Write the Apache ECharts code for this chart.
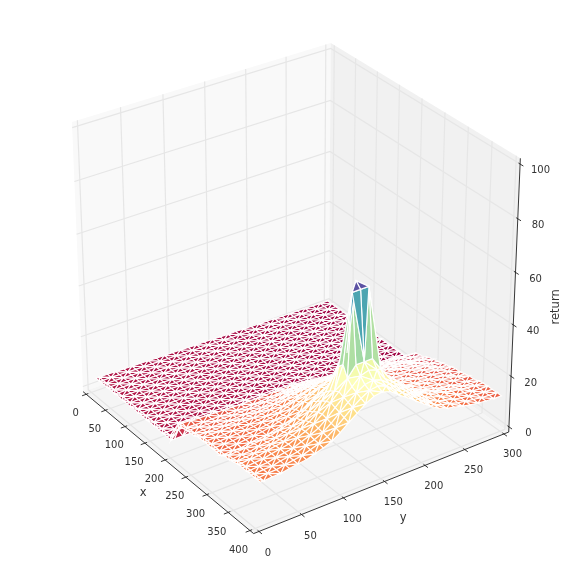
<!DOCTYPE html>
<html><head><meta charset="utf-8"><style>html,body{margin:0;padding:0;background:#fff}#c{width:572px;height:572px}</style>
<script src="https://cdn.jsdelivr.net/npm/echarts@6/dist/echarts.min.js"></script></head><body><div id="c"></div>
<script>
const xTicks=[0,50,100,150,200,250,300,350,400];
const yTicks=[0,50,100,150,200,250,300];
const zTicks=[0,20,40,60,80,100];
const xValues=[0,10,20,30,40,50,60,70,80,90,100,110,120,130,140,150,160,170,180,190,200,210,220,230,240,250,260,270,280,290,300,310,320,330,340,350,360,370,380,390,400];
const yValues=[6,10,20,30,40,50,60,70,80,90,100,110,120,130,140,150,160,170,180,190,200,210,220,230,240,250,260,270,280,290,300];
const zRows=[
[3,2.9,2.9,2.8,2.7,2.6,2.6,2.5,2.4,2.3,2.3,2.2,2.1,2,2,1.9,1.8,1.7,1.7,1.6,1.5,1.4,1.4,1.3,1.2,1.1,1.1,1,.9,.8,.8],
[3,2.9,2.9,2.8,2.7,2.6,2.6,2.5,2.4,2.3,2.3,2.2,2.1,2,2,1.9,1.8,1.7,1.7,1.6,1.5,1.4,1.4,1.3,1.2,1.1,1.1,1,.9,.8,.8],
[3,2.9,2.9,2.8,2.7,2.6,2.6,2.5,2.4,2.3,2.3,2.2,2.1,2,2,1.9,1.8,1.7,1.7,1.6,1.5,1.4,1.4,1.3,1.2,1.1,1.1,1,.9,.8,.8],
[3,2.9,2.9,2.8,2.7,2.6,2.6,2.5,2.4,2.3,2.3,2.2,2.1,2,2,1.9,1.8,1.7,1.7,1.6,1.5,1.4,1.4,1.3,1.2,1.1,1.1,1,.9,.8,.8],
[3,2.9,2.9,2.8,2.7,2.6,2.6,2.5,2.4,2.3,2.3,2.2,2.1,2,2,1.9,1.8,1.7,1.7,1.6,1.5,1.4,1.4,1.3,1.2,1.1,1.1,1,.9,.8,.8],
[3,2.9,2.9,2.8,2.7,2.6,2.6,2.5,2.4,2.3,2.3,2.2,2.1,2,2,1.9,1.8,1.7,1.7,1.6,1.5,1.4,1.4,1.3,1.2,1.1,1.1,1,.9,.8,.8],
[3,2.9,2.9,2.8,2.7,2.6,2.6,2.5,2.4,2.3,2.3,2.2,2.1,2,2,1.9,1.8,1.7,1.7,1.6,1.5,1.4,1.4,1.3,1.2,1.1,1.1,1,.9,.8,.8],
[3,2.9,2.9,2.8,2.7,2.6,2.6,2.5,2.4,2.3,2.3,2.2,2.1,2,2,1.9,1.8,1.7,1.7,1.6,1.5,1.4,1.4,1.3,1.2,1.1,1.1,1,.9,.8,.8],
[3,2.9,2.9,2.8,2.7,2.6,2.6,2.5,2.4,2.3,2.3,2.2,2.1,2,2,1.9,1.8,1.7,1.7,1.6,1.5,1.4,1.4,1.3,1.2,1.1,1.1,1,.9,.8,.8],
[3,2.9,2.9,2.8,2.7,2.6,2.6,2.5,2.4,2.3,2.3,2.2,2.1,2,2,1.9,1.8,1.7,1.7,1.6,1.5,1.4,1.4,1.3,1.2,1.1,1.1,1,.9,.8,.8],
[3,2.9,2.9,2.8,2.7,2.6,2.6,2.5,2.4,2.3,2.3,2.2,2.1,2,2,1.9,1.8,1.7,1.7,1.6,1.5,1.4,1.4,1.3,1.2,1.1,1.1,1,.9,.8,.8],
[3,2.9,2.9,2.8,2.7,2.6,2.6,2.5,2.4,2.3,2.3,2.2,2.1,2,2,1.9,1.8,1.7,1.7,1.6,1.5,1.4,1.4,1.3,1.2,1.1,1.1,1,.9,.8,.8],
[3,2.9,2.9,2.8,2.7,2.6,2.6,2.5,2.4,2.3,2.3,2.2,2.1,2,2,1.9,1.8,1.7,1.7,1.6,1.5,1.4,1.4,1.3,1.2,1.1,1.1,1,.9,.8,.8],
[3,2.9,2.9,2.8,2.7,2.6,2.6,2.5,2.4,2.3,2.3,2.2,2.1,2,2,1.9,1.8,1.7,1.7,1.6,1.5,1.4,1.4,1.3,1.2,1.1,1.1,1,.9,.8,.8],
[3,2.9,2.9,2.8,2.7,2.6,2.6,2.5,2.4,2.3,2.3,2.2,2.1,2,2,1.9,1.8,1.7,1.7,1.6,1.5,1.4,1.4,1.3,1.2,1.1,1.1,1,.9,.8,.8],
[3,2.9,2.9,2.8,2.7,2.6,2.6,2.5,2.4,2.3,2.3,2.2,2.1,2,2,1.9,1.8,1.7,1.7,1.6,1.5,1.4,1.4,1.3,1.2,1.1,1.1,1,.9,.8,.8],
[3,2.9,2.9,2.8,2.7,2.6,2.6,2.5,2.4,2.3,2.3,2.2,2.1,2,2,1.9,1.8,1.7,1.7,1.6,1.5,1.4,1.4,1.3,1.2,1.1,1.1,1,.9,.8,.8],
[3,2.9,2.9,2.8,2.7,2.6,2.6,2.5,2.4,2.3,2.3,2.2,2.1,2,2,1.9,1.8,1.7,1.7,1.6,1.5,1.4,1.4,1.3,1.2,1.1,1.1,1,.9,.8,.8],
[3,2.9,2.9,2.8,2.7,2.6,2.6,2.5,2.4,2.3,2.3,2.2,2.1,2,2,1.9,1.8,1.7,1.7,1.6,1.5,1.4,1.4,1.3,1.2,1.1,1.1,1,.9,.8,.8],
[3,2.9,2.9,2.8,2.7,2.6,2.6,2.5,2.4,2.3,2.3,2.2,2.1,2,2,1.9,1.8,1.7,1.7,1.6,1.5,1.4,1.4,1.3,1.2,1.1,1.1,1,.9,.8,.8],
[8,8,7.9,7.8,7.6,7.5,7.4,7.3,7.3,7.3,7.3,7.4,7.4,7.4,7.5,7.5,7.3,7,6.7,6.5,6.2,5.9,5.6,5.4,5.2,5,4.8,4.6,4.2,3.6,3],
[12,11.8,11.6,11.3,11.2,11,10.9,10.7,10.6,10.6,10.6,10.6,10.7,10.6,10.7,10.5,10.2,9.7,9.2,8.7,8.2,7.8,7.3,6.9,6.5,6.2,5.9,5.7,5.2,5.1,5],
[11.5,11.3,11.2,11,11,10.9,10.7,10.7,10.7,10.7,10.8,11.1,11.3,11.5,11.6,11.5,11.2,10.7,10.4,10,9.5,9,8.5,8.1,7.7,7.3,6.9,6.3,5.9,5.7,5.5],
[12,11.8,11.7,11.5,11.5,11.4,11.3,11.4,11.4,11.5,11.8,12.2,12.6,12.9,13,13,12.6,12.1,11.6,11,10.4,9.9,9.4,8.9,8.5,8.2,7.8,7.2,6.6,6.2,6],
[12,11.8,11.8,11.7,11.7,11.7,11.7,11.8,11.9,12,12.6,13,13.7,14,14.2,14.5,14,13.5,13,12.4,11.7,11.2,10.5,10,9.7,9.2,8.8,8.3,7.6,7.2,7],
[12.5,12.3,12.3,12.2,12.3,12.3,12.3,12.5,12.7,13,13.5,14.3,14.9,15.4,15.8,15.5,15.3,14.6,14,13.3,12.7,11.9,11.2,10.9,10.5,10,9.5,9,8.3,7.7,7.5],
[13,12.8,12.8,12.7,12.8,12.9,12.9,13.1,13.4,13.8,14.5,15.4,16.2,16.9,17.5,17.5,17,16.2,15.5,14.6,13.7,12.9,12,11.5,11,10.7,10,9.5,9,8.2,8],
[13,12.9,12.9,12.8,12.9,13,13,13.5,13.8,14.3,15.1,16.1,17.1,18,18.8,18.8,18.3,17.3,16.4,15.3,14.3,13.4,12.5,11.8,11.3,10.8,10.5,10,9.6,8.6,8.5],
[13,12.9,12.9,13,13.2,13.3,13.5,14,14.4,15.1,16.2,17.5,18.8,20,21,21,20.4,19,17.9,16.5,15.3,14.2,12.9,12.3,11.7,11.2,10.9,10.5,10,9.2,9],
[13,12.9,13,13,13.3,13.5,13.7,14.2,14.8,15.6,16.8,18.3,19.8,21,22,22.2,21.5,20,18.7,17.2,15.6,14.5,13.1,12.4,11.9,11.5,11.1,10.9,10.5,9.6,9.5],
[13,12.9,13,13.1,13.5,13.8,14.1,14.8,15.6,16.4,17.9,19.7,21.4,23,24.2,24.5,23.7,21.9,20.3,18.6,16.9,15.4,14,13.1,12.5,12,11.5,11.2,10.7,10.1,10],
[13,12.9,13.1,13,13.6,14,14.1,15,15.7,16.7,18.3,20.3,22.2,24,25.2,25.5,24.7,22.8,21,19.2,17.3,15.5,14,13,12.6,12.2,11.7,11.5,10.9,10.1,10],
[14,13.9,14,14.2,14.6,15,15.3,16.2,17.1,18.3,20.1,22.4,24.4,26.5,28,28.3,27.5,25.2,23.2,21.2,18.9,16.8,15,14,13.3,12.7,12.2,11.8,11.4,10.6,10.5],
[14,13.9,14.2,14.2,14.9,15.3,15.7,16.7,17.7,19,21,23.7,26.1,32,38,38,36,30,24.8,22.5,19.9,17.6,15.4,14.2,13.5,12.9,12.3,11.8,11.4,11.1,11],
[14.5,14.4,14.7,14.8,15.4,15.9,16.4,17.5,18.6,20,22.3,25.2,27.9,36,40,66,40,34,26.4,23.9,21.2,18.7,16.3,15,14.1,13.2,12.5,12,11.4,11.1,11],
[15,14.9,15.2,15.3,16,16.5,17,18.2,19.4,20.9,23.3,26.3,29.1,38,64,64,64,38,27.6,25,22.2,19.5,17,15.7,14.7,13.8,13.1,12.5,11.9,11.6,11.5],
[15,14.9,15.2,15.4,16.1,16.7,17.3,18.5,19.7,21.4,23.9,27.1,30.1,34,38,38,38,33,28.6,25.9,22.9,20.2,17.6,16.2,15.2,14.3,13.5,13,12.4,12.1,12],
[15,14.9,15.2,15.3,16,16.6,17.1,18.3,19.5,21,23.5,26.5,29.3,32,35,36,35,30.5,27.9,25.3,22.5,19.8,17.4,16.1,15.1,14.2,13.5,13,12.4,12.1,12],
[15,14.9,15.2,15.3,16,16.5,17,18.1,19.2,20.7,23,25.9,28.6,31.1,33,33.5,32.4,29.7,27.2,24.7,22,19.5,17.2,15.9,15,14.1,13.4,12.9,12.4,12.1,12],
[15,14.9,15.2,15.3,15.9,16.4,16.9,17.9,19,20.4,22.6,25.3,27.9,30.2,32,32.5,31.4,28.9,26.5,24.1,21.6,19.2,17,15.7,14.9,14,13.4,12.9,12.4,12.1,12],
[15,14.9,15.2,15.2,15.9,16.3,16.7,17.7,18.7,20,22.1,24.7,27,29.4,31.1,31.5,30.5,28.1,25.8,23.5,21.1,18.8,16.8,15.6,14.8,14,13.3,12.8,12.4,12.1,12]
];
const spectral=[[158,1,66],[213,62,79],[244,109,67],[253,174,97],[254,224,139],[255,255,191],[230,245,152],[171,221,164],[102,194,165],[50,136,189],[94,79,162]];
const zMin=.8,zMax=65;

const AZ=-35*Math.PI/180,EL=30*Math.PI/180,DIST=10,SCALE=301,CX=293.6,CY=279.3;
const n=[Math.cos(EL)*Math.cos(AZ),Math.cos(EL)*Math.sin(AZ),Math.sin(EL)];
const u=[-Math.sin(AZ),Math.cos(AZ),0];
const v=[-n[2]*Math.cos(AZ),-n[2]*Math.sin(AZ),Math.cos(EL)];
const dot=(a,b)=>a[0]*b[0]+a[1]*b[1]+a[2]*b[2];
function projU(a,b,c){const d=[a-.5,b-.5,c-.5],f=DIST/(DIST-dot(d,n));return [CX+SCALE*dot(d,u)*f,CY-SCALE*dot(d,v)*f];}
function depth(a,b,c){return dot([a-.5,b-.5,c-.5],n);}
const ux=x=>x/400,uy=y=>y/300,uz=z=>z/100;
const P0=-1/48,P1=49/48;

function colorOf(z){const t=Math.max(0,Math.min(1,(z-zMin)/(zMax-zMin)))*10,i=Math.min(9,Math.floor(t)),f=t-i,a=spectral[i],b=spectral[i+1];
 return 'rgb('+[0,1,2].map(k=>Math.round(a[k]+(b[k]-a[k])*f)).join(',')+')';}

const tris=[];
function addTri(p){const pts=p.map(q=>[ux(xValues[q[0]]),uy(yValues[q[1]]),uz(zRows[q[0]][q[1]])]);
 const mz=p.reduce((s,q)=>s+zRows[q[0]][q[1]],0)/3;
 tris.push({pts:pts.map(q=>projU(q[0],q[1],q[2])),d:pts.reduce((s,q)=>s+depth(q[0],q[1],q[2]),0)/3,color:colorOf(mz)});}
for(let i=0;i<xValues.length-1;i++)for(let j=0;j<yValues.length-1;j++){
 if((i+j)%2===1){addTri([[i,j],[i+1,j],[i+1,j+1]]);addTri([[i,j],[i+1,j+1],[i,j+1]]);}
 else{addTri([[i,j],[i+1,j],[i,j+1]]);addTri([[i+1,j],[i+1,j+1],[i,j+1]]);}
}
tris.sort((a,b)=>a.d-b.d);

const panes=[
 {pts:[projU(P0,P0,P0),projU(P0,P1,P0),projU(P0,P1,P1),projU(P0,P0,P1)],color:'#f9f9f9'},
 {pts:[projU(P0,P1,P0),projU(P1,P1,P0),projU(P1,P1,P1),projU(P0,P1,P1)],color:'#f1f1f1'},
 {pts:[projU(P0,P0,P0),projU(P1,P0,P0),projU(P1,P1,P0),projU(P0,P1,P0)],color:'#f5f5f5'}
];
const grids=[],axes=[],labels=[];
xTicks.forEach(t=>{const a=ux(t);grids.push([projU(a,P0,P0),projU(a,P1,P0),projU(a,P1,P1)]);
 axes.push([projU(a,P0-.0167,P0),projU(a,P0+.0083,P0)]);
 labels.push({p:projU(a,P0-.045,P0-.06),text:String(t)});});
yTicks.forEach(t=>{const b=uy(t);grids.push([projU(P1,b,P0),projU(P0,b,P0),projU(P0,b,P1)]);
 axes.push([projU(P1+.0167,b,P0),projU(P1-.0083,b,P0)]);
 labels.push({p:projU(P1+.05,b,P0-.057),text:String(t)});});
zTicks.forEach(t=>{const c=uz(t);grids.push([projU(P0,P0,c),projU(P0,P1,c),projU(P1,P1,c)]);
 axes.push([projU(P1+.0167,P1,c),projU(P1-.0083,P1,c)]);
 labels.push({p:projU(P1+.055,P1+.04,c-.012),text:String(t)});});
axes.push([projU(P0,P0,P0),projU(P1,P0,P0)]);
axes.push([projU(P1,P0,P0),projU(P1,P1,P0)]);
axes.push([projU(P1,P1,P0),projU(P1,P1,P1)]);
labels.push({p:projU(.5,P0-.09,P0-.096),text:'x',size:11.5});
labels.push({p:projU(P1+.105,.5,P0-.086),text:'y',size:11.5});
labels.push({p:projU(P1+.12,P1+.08,.5),text:'return',size:11.5,rot:Math.PI/2});

const polyShape=(api,pts)=>({points:pts.map(q=>api.coord(q))});
const idx=a=>a.map((_,i)=>[i]);
const base={type:'custom',silent:true,animation:false,progressive:0,clip:false,encode:{x:0,y:0}};
const option={animation:false,backgroundColor:'#fff',
 grid:{left:0,right:0,top:0,bottom:0},
 xAxis:{type:'value',min:0,max:572,show:false},
 yAxis:{type:'value',min:0,max:572,inverse:true,show:false},
 series:[
 Object.assign({},base,{name:'panes',data:idx(panes),renderItem:(p,api)=>({type:'polygon',shape:polyShape(api,panes[p.dataIndex].pts),style:{fill:panes[p.dataIndex].color}})}),
 Object.assign({},base,{name:'grid',data:idx(grids),renderItem:(p,api)=>({type:'polyline',shape:polyShape(api,grids[p.dataIndex]),style:{fill:'none',stroke:'#e6e6e6',lineWidth:1.2}})}),
 Object.assign({},base,{name:'axes',data:idx(axes),renderItem:(p,api)=>({type:'polyline',shape:polyShape(api,axes[p.dataIndex]),style:{fill:'none',stroke:'#222',lineWidth:.9}})}),
 Object.assign({},base,{name:'surface',data:idx(tris),renderItem:(p,api)=>{const t=tris[p.dataIndex];return {type:'polygon',shape:polyShape(api,t.pts),style:{fill:t.color,stroke:'#fff',lineWidth:1.15}};}}),
 Object.assign({},base,{name:'labels',data:idx(labels),renderItem:(p,api)=>{const l=labels[p.dataIndex],c=api.coord(l.p);return {type:'text',x:c[0],y:c[1],rotation:l.rot||0,style:{text:l.text,fill:'#333',font:(l.size||10)+'px "DejaVu Sans"',align:'center',verticalAlign:'middle'}};}})
 ]};
echarts.init(document.getElementById('c'),null,{renderer:'canvas'}).setOption(option);
</script></body></html>
